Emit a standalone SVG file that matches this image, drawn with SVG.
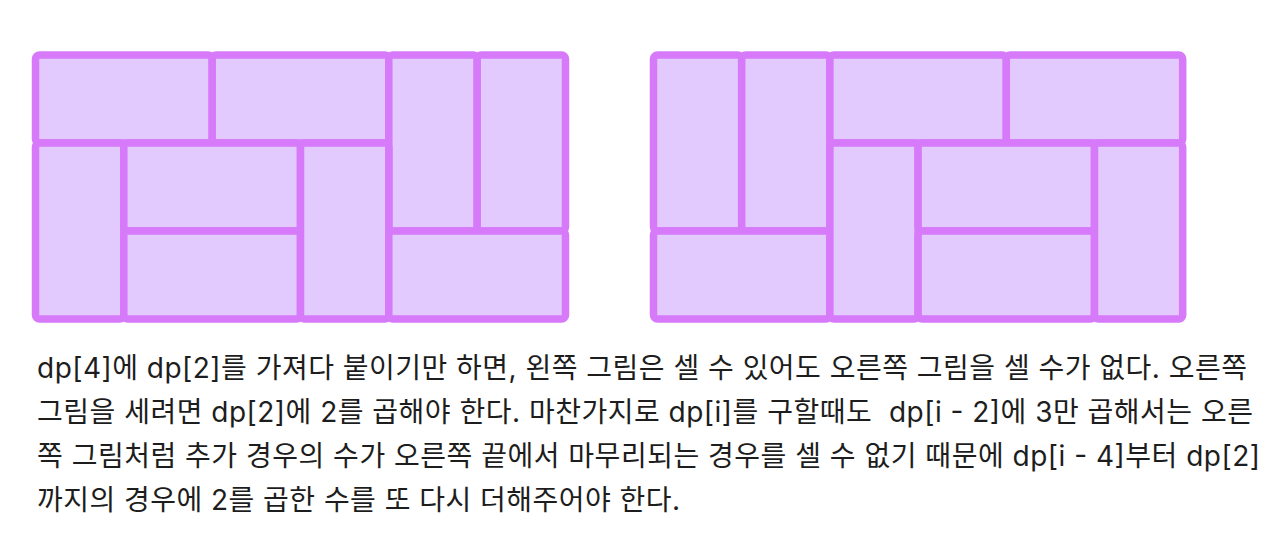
<svg xmlns="http://www.w3.org/2000/svg" width="1279" height="542" viewBox="0 0 1279 542">
<style>
.t{fill:#E3CAFE;stroke:#D67AFA;stroke-width:7.5}
.txt{font-family:Inter,"Noto Sans CJK KR",sans-serif;font-size:28px;fill:#1d1d1d}
</style>
<rect width="1279" height="542" fill="#ffffff"/>
<g id="left-tiling">
<rect class="t" x="35.5" y="55" width="176.7" height="88" rx="4"/>
<rect class="t" x="212.2" y="55" width="176.6" height="88" rx="4"/>
<rect class="t" x="388.8" y="55" width="88.4" height="176" rx="4"/>
<rect class="t" x="477.2" y="55" width="88.3" height="176" rx="4"/>
<rect class="t" x="35.5" y="143" width="88.3" height="176" rx="4"/>
<rect class="t" x="123.8" y="143" width="176.7" height="88" rx="4"/>
<rect class="t" x="123.8" y="231" width="176.7" height="88" rx="4"/>
<rect class="t" x="300.5" y="143" width="88.3" height="176" rx="4"/>
<rect class="t" x="388.8" y="231" width="176.7" height="88" rx="4"/>
</g>
<g id="right-tiling">
<rect class="t" x="653.5" y="55" width="88.2" height="176" rx="4"/>
<rect class="t" x="741.7" y="55" width="88.2" height="176" rx="4"/>
<rect class="t" x="829.9" y="55" width="176.4" height="88" rx="4"/>
<rect class="t" x="1006.3" y="55" width="176.4" height="88" rx="4"/>
<rect class="t" x="653.5" y="231" width="176.4" height="88" rx="4"/>
<rect class="t" x="829.9" y="143" width="88.2" height="176" rx="4"/>
<rect class="t" x="918.1" y="143" width="176.4" height="88" rx="4"/>
<rect class="t" x="918.1" y="231" width="176.4" height="88" rx="4"/>
<rect class="t" x="1094.5" y="143" width="88.2" height="176" rx="4"/>
</g>
<g id="caption">
<text class="txt" x="37" y="378" textLength="1210" lengthAdjust="spacing">dp[4]에 dp[2]를 가져다 붙이기만 하면, 왼쪽 그림은 셀 수 있어도 오른쪽 그림을 셀 수가 없다. 오른쪽</text>
<text class="txt" x="37" y="422" xml:space="preserve" textLength="1216" lengthAdjust="spacing">그림을 세려면 dp[2]에 2를 곱해야 한다. 마찬가지로 dp[i]를 구할때도  dp[i - 2]에 3만 곱해서는 오른</text>
<text class="txt" x="37" y="466" textLength="1223" lengthAdjust="spacing">쪽 그림처럼 추가 경우의 수가 오른쪽 끝에서 마무리되는 경우를 셀 수 없기 때문에 dp[i - 4]부터 dp[2]</text>
<text class="txt" x="37" y="510" textLength="643" lengthAdjust="spacing">까지의 경우에 2를 곱한 수를 또 다시 더해주어야 한다.</text>
</g>
</svg>
